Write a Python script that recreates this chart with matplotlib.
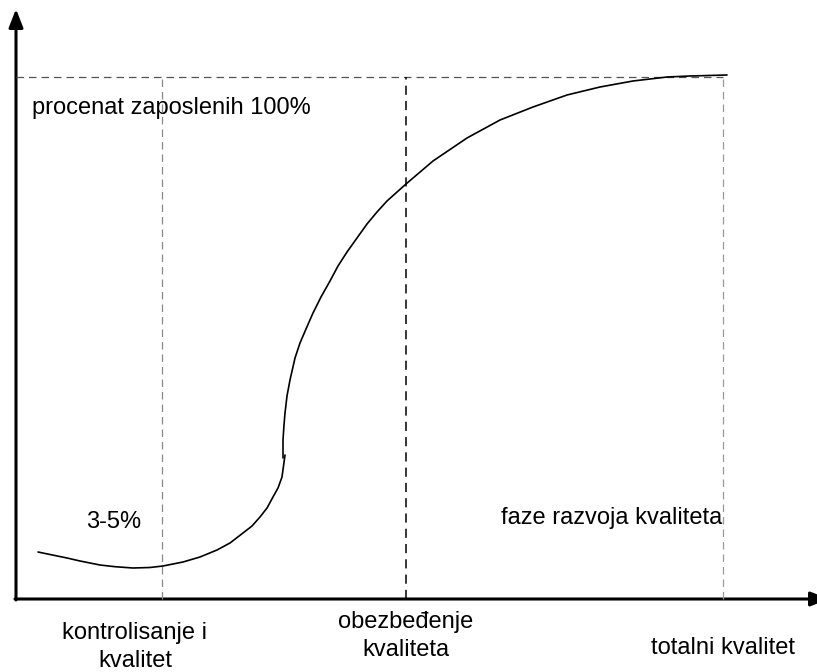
import matplotlib.pyplot as plt
from matplotlib.patches import FancyArrowPatch

plt.rcParams['font.family'] = ['Liberation Sans', 'DejaVu Sans']

# curve of employee involvement, lower part (control phase)
low_x = [22, 34, 51, 64, 84, 99, 117, 134, 147, 167, 184, 201, 214, 227, 236,
         244, 251, 257, 262, 266, 269]
low_y = [47, 44.5, 41, 38, 34, 32.3, 31, 31.5, 33, 37, 42, 49, 56, 66, 73,
         82, 91, 102, 111, 122, 144]

# upper part (assurance -> total quality)
up_x = [267, 267, 268, 269, 271, 274, 279, 284, 290, 297, 305, 314, 322, 331,
        341, 351, 361, 371, 390, 417, 451, 484, 517, 551, 584, 617, 651, 674, 711]
up_y = [141, 159, 174, 186, 203, 219, 241, 256, 270, 286, 302, 318, 333, 347,
        361, 375, 387, 398, 415, 438, 461, 479, 492, 504, 512, 518, 522, 523, 524]

phase_x = [146, 390, 707]
phase_labels = ['kontrolisanje i\nkvalitet', 'obezbeđenje\nkvaliteta', 'totalni kvalitet']
level_100 = 522

fig = plt.figure(figsize=(8.17, 6.72), dpi=100)
ax = fig.add_axes([0, 0, 1, 1])
ax.set_xlim(-16, 801)
ax.set_ylim(-73, 599)
ax.axis('off')

# guide lines
ax.plot([0, phase_x[2]], [level_100, level_100], color='#555555', lw=0.9,
        dashes=(6, 4))
ax.plot([phase_x[0], phase_x[0]], [0, level_100], color='#888888', lw=0.9,
        dashes=(6, 4))
ax.plot([phase_x[1], phase_x[1]], [0, level_100], color='black', lw=1.1,
        dashes=(6, 4))
ax.plot([phase_x[2], phase_x[2]], [0, level_100], color='#999999', lw=0.9,
        dashes=(6, 4))

# curve
ax.plot(low_x, low_y, color='black', lw=1.2, solid_capstyle='round',
        solid_joinstyle='round')
ax.plot(up_x, up_y, color='black', lw=1.2, solid_capstyle='round',
        solid_joinstyle='round')

# axes with arrows
ax.add_patch(FancyArrowPatch((0, -1), (0, 590), arrowstyle='-|>,head_length=11,head_width=4.3',
                             lw=2.2, color='black', mutation_scale=1, shrinkA=0, shrinkB=0))
ax.add_patch(FancyArrowPatch((-1, 0), (813, 0), arrowstyle='-|>,head_length=11,head_width=4.3',
                             lw=2.2, color='black', mutation_scale=1, shrinkA=0, shrinkB=0))

fs = 17
ax.text(16, 491, 'procenat zaposlenih 100%', fontsize=fs, va='center', ha='left')
ax.text(98, 77, '3-5%', fontsize=fs, va='center', ha='center')
ax.text(706, 81, 'faze razvoja kvaliteta', fontsize=fs, va='center', ha='right')

ax.text(119, -48, phase_labels[0], fontsize=fs, va='center',
        ha='center', linespacing=1.3)
ax.text(phase_x[1], -37, phase_labels[1], fontsize=fs, va='center',
        ha='center', linespacing=1.3)
ax.text(phase_x[2], -49, phase_labels[2], fontsize=fs, va='center',
        ha='center')

fig.savefig('out.png', dpi=100)
